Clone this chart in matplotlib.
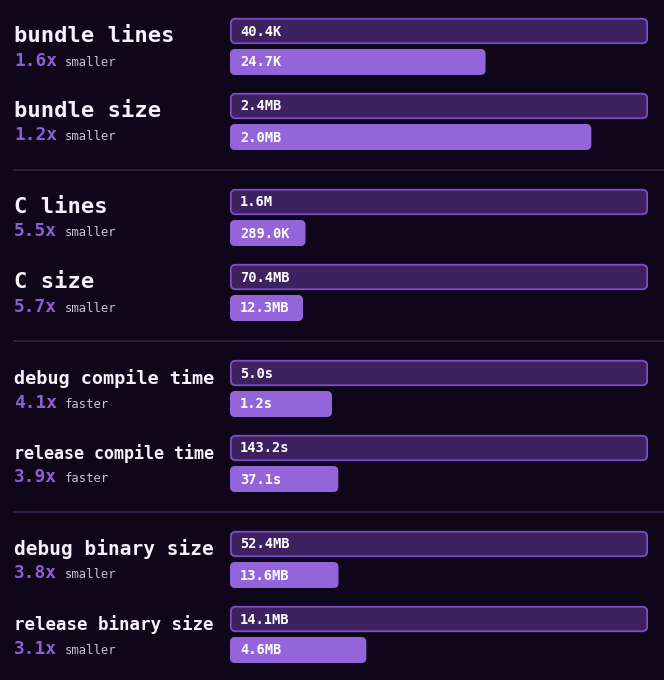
import matplotlib
matplotlib.use("Agg")
import matplotlib.pyplot as plt
from matplotlib.patches import FancyBboxPatch

# data
metrics = ["bundle lines", "bundle size", "C lines", "C size",
           "debug compile time", "release compile time",
           "debug binary size", "release binary size"]
groups = [0, 0, 1, 1, 2, 2, 3, 3]
old_vals = [40.4, 2.36, 1600.0, 70.4, 5.0, 143.2, 52.4, 14.1]
new_vals = [24.7, 2.04, 289.0, 12.3, 1.22, 37.1, 13.6, 4.6]
old_labels = ["40.4K", "2.4MB", "1.6M", "70.4MB", "5.0s", "143.2s", "52.4MB", "14.1MB"]
new_labels = ["24.7K", "2.0MB", "289.0K", "12.3MB", "1.2s", "37.1s", "13.6MB", "4.6MB"]
ratios = ["1.6x", "1.2x", "5.5x", "5.7x", "4.1x", "3.9x", "3.8x", "3.1x"]
verbs = ["smaller", "smaller", "smaller", "smaller", "faster", "faster", "smaller", "smaller"]

# style
BG = "#0f0619"
OLD_FILL = "#3d2160"
OLD_EDGE = "#7b4fc6"
NEW_FILL = "#9464da"
RATIO_C = "#8c5fd2"
VERB_C = "#c9c1d3"
TITLE_C = "#f6f2fb"
SEP_C = "#2c1d42"
MONO = "DejaVu Sans Mono"

W, H = 664, 680
BAR_X0, BAR_W = 230, 418
BAR_H = 26
PX = 72 / 100  # px -> pt at dpi 100

fig = plt.figure(figsize=(W / 100, H / 100), dpi=100, facecolor=BG)

# bar axes: x is value relative to the old value
axb = fig.add_axes([BAR_X0 / W, 0, BAR_W / W, 1])
axb.set_xlim(0, 1)
axb.set_ylim(H, 0)
axb.axis("off")
axb.set_zorder(1)

# text axes on top, in pixels
ax = fig.add_axes([0, 0, 1, 1])
ax.set_xlim(0, W)
ax.set_ylim(H, 0)
ax.axis("off")
ax.set_zorder(2)
ax.patch.set_alpha(0)

r = 5.0
for i, name in enumerate(metrics):
    g = groups[i]
    k = i - groups.index(g)
    top = 18 + g * 171 + k * 75

    old_w = old_vals[i] / old_vals[i]
    new_w = new_vals[i] / old_vals[i]
    axb.add_patch(FancyBboxPatch((0.75 / BAR_W, top + 0.75), old_w - 1.5 / BAR_W, BAR_H - 1.5,
                                 boxstyle=f"round,pad=0,rounding_size={r / BAR_W}",
                                 mutation_aspect=BAR_W, fc=OLD_FILL, ec=OLD_EDGE, lw=1.3))
    axb.add_patch(FancyBboxPatch((0, top + BAR_H + 5), new_w, BAR_H,
                                 boxstyle=f"round,pad=0,rounding_size={r / BAR_W}",
                                 mutation_aspect=BAR_W, fc=NEW_FILL, ec="none"))
    ax.text(240, top + BAR_H / 2 + 0.5, old_labels[i], family=MONO, weight="bold",
            fontsize=13.6 * PX, color="white", va="center", ha="left")
    ax.text(240, top + BAR_H + 5 + BAR_H / 2 + 0.5, new_labels[i], family=MONO, weight="bold",
            fontsize=13.6 * PX, color="white", va="center", ha="left")

    # labels on the left, shrink long titles to fit
    fs = min(22.1, 200 / (0.602 * len(name)))
    ax.text(14, top + 23.7, name, family=MONO, weight="bold", fontsize=fs * PX,
            color=TITLE_C, va="baseline", ha="left")
    ax.text(14, top + 47.5, ratios[i], family=MONO, weight="bold", fontsize=17.9 * PX,
            color=RATIO_C, va="baseline", ha="left")
    ax.text(65, top + 47.5, verbs[i], family=MONO, fontsize=12.3 * PX,
            color=VERB_C, va="baseline", ha="left")

# group separators
for g in range(1, max(groups) + 1):
    ax.plot([13, W], [g * 171 - 1, g * 171 - 1], color=SEP_C, lw=1.5, solid_capstyle="butt")

plt.savefig("out.png", dpi=100, facecolor=BG)
